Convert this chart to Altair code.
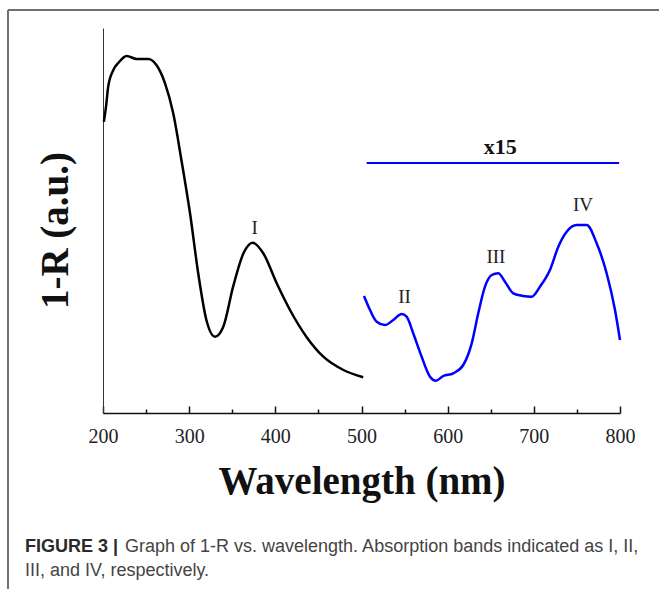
import altair as alt
import pandas as pd

# ---- data ----
uv_nm = [201, 203.5, 206, 212, 218, 227.5, 239, 252.5, 262, 272, 281.5, 291, 301,
         310.5, 320, 330, 339.6, 351, 363, 373.7, 386, 401.6, 417, 436, 455.7, 479, 502]
uv_val = [291.3, 306.3, 326.3, 343, 350.3, 357, 354, 354, 348, 329.7, 299.7, 253, 199.7,
          139.7, 93, 76.3, 86.3, 126.3, 159.7, 170.3, 159.7, 129.7, 103, 76.3, 56.3, 43, 35.7]

vis_nm = [502.9, 509.9, 517.6, 527.3, 536.9, 546.6, 552.4, 560, 569.8, 579.5, 586.4, 594.9,
          606.5, 618.1, 627.9, 635.5, 643.3, 651.1, 658.7, 666.5, 676.1, 687.7, 697.5, 707.1,
          718.7, 728.4, 738.1, 749.7, 761.3, 772.9, 784.5, 794.2, 800]
vis_val = [117, 103, 91.3, 88, 93, 99, 96.3, 79.7, 56.3, 36.3, 32.3, 37,
           39.7, 48, 69.7, 99.7, 126.3, 138, 139.7, 131.3, 119.7, 117, 116.3, 126.3,
           143, 166.3, 181.3, 188, 188, 169.7, 139.7, 103, 73]

band_names = ["I", "II", "III", "IV"]
band_nm = [376, 550, 656, 757]
band_val = [185, 116, 156, 208]

scale_bar_nm = [506]
scale_bar_nm2 = [799]
scale_bar_val = [250]
scale_text = ["x15"]
scale_text_nm = [661]
scale_text_val = [266]

x_label_values = [200, 300, 400, 500, 600, 700, 800]
x_minor_values = [250, 350, 450, 550, 650, 750]

caption_bold = "FIGURE 3 |"
caption_line1 = "Graph of 1-R vs. wavelength. Absorption bands indicated as I, II,"
caption_line2 = "III, and IV, respectively."

# ---- chart ----
W, H = 517, 385
SERIF = "Liberation Serif"
SANS = "Liberation Sans"

uv_df = pd.DataFrame({"nm": uv_nm, "val": uv_val})
vis_df = pd.DataFrame({"nm": vis_nm, "val": vis_val})
band_df = pd.DataFrame({"nm": band_nm, "val": band_val, "lab": band_names})
bar_df = pd.DataFrame({"nm": scale_bar_nm, "nm2": scale_bar_nm2, "val": scale_bar_val})
st_df = pd.DataFrame({"nm": scale_text_nm, "val": scale_text_val, "lab": scale_text})

xscale = alt.Scale(domain=[200, 800], nice=False, zero=False)
yscale = alt.Scale(domain=[0, H], nice=False, zero=False)

yaxis = alt.Axis(
    title="1-R (a.u.)", ticks=False, labels=False, grid=False, domain=True,
    domainColor="#333333", domainWidth=1,
    titleFont=SERIF, titleFontSize=39, titleFontWeight="bold", titleColor="#111111",
    titleAngle=270, titleX=-36, titleY=202, titleAlign="center", titleBaseline="alphabetic",
)
xaxis_bottom = alt.Axis(
    orient="bottom", values=x_label_values, ticks=False, grid=False, domain=True,
    domainColor="#111111", domainWidth=1.5,
    labelFont=SERIF, labelFontSize=20, labelColor="#222222", labelBaseline="alphabetic",
    labelPadding=29, labelFlush=False, labelOverlap=False,
    title="Wavelength (nm)", titleFont=SERIF, titleFontSize=39, titleFontWeight="bold",
    titleColor="#111111", titleX=W / 2, titleY=80, titleAlign="center",
    titleBaseline="alphabetic",
)
# inward ticks: top-oriented axes moved down onto the bottom edge
xaxis_major = alt.Axis(
    orient="top", offset=-H, values=x_label_values, labels=False, domain=False, grid=False,
    ticks=True, tickColor="#111111", tickWidth=1.5, tickSize=7, title=None,
)
xaxis_minor = alt.Axis(
    orient="top", offset=-H, values=x_minor_values, labels=False, domain=False, grid=False,
    ticks=True, tickColor="#111111", tickWidth=1.5, tickSize=4, title=None,
)

yenc = alt.Y("val:Q", scale=yscale, axis=yaxis)

uv = alt.Chart(uv_df).mark_line(color="black", strokeWidth=2.5, interpolate="monotone").encode(
    x=alt.X("nm:Q", scale=xscale, axis=xaxis_bottom), y=yenc)
vis = alt.Chart(vis_df).mark_line(color="#0000ff", strokeWidth=2.5, interpolate="monotone").encode(
    x=alt.X("nm:Q", scale=xscale, axis=xaxis_major), y=yenc)
bar = alt.Chart(bar_df).mark_rule(color="#0000ff", strokeWidth=1.8).encode(
    x=alt.X("nm:Q", scale=xscale, axis=xaxis_minor), x2="nm2:Q", y=yenc)
st = alt.Chart(st_df).mark_text(font=SERIF, fontSize=22, fontWeight="bold", color="#111111",
                                baseline="middle", align="center").encode(
    x=alt.X("nm:Q", scale=xscale, axis=None), y=yenc, text="lab:N")
bands = alt.Chart(band_df).mark_text(font=SERIF, fontSize=19, color="#222222",
                                     baseline="middle", align="center").encode(
    x=alt.X("nm:Q", scale=xscale, axis=None), y=yenc, text="lab:N")

# frame and caption
one = pd.DataFrame({"k": [0]})
frame_top = alt.Chart(one).mark_rule(color="#707070", strokeWidth=2).encode(
    x=alt.value(-95), x2=alt.value(556), y=alt.value(-18))
frame_left = alt.Chart(one).mark_rule(color="#707070", strokeWidth=2).encode(
    x=alt.value(-95), y=alt.value(-18), y2=alt.value(561))
cap_b = alt.Chart(pd.DataFrame({"t": [caption_bold]})).mark_text(
    font=SANS, fontSize=18, fontWeight="bold", color="#2a2a2a", align="left",
    baseline="alphabetic").encode(x=alt.value(-78), y=alt.value(524), text="t:N")
cap_1 = alt.Chart(pd.DataFrame({"t": [caption_line1]})).mark_text(
    font=SANS, fontSize=18, color="#444444", align="left",
    baseline="alphabetic").encode(x=alt.value(22), y=alt.value(524), text="t:N")
cap_2 = alt.Chart(pd.DataFrame({"t": [caption_line2]})).mark_text(
    font=SANS, fontSize=18, color="#444444", align="left",
    baseline="alphabetic").encode(x=alt.value(-78), y=alt.value(548), text="t:N")

chart = alt.layer(uv, vis, bar, st, bands, frame_top, frame_left, cap_b, cap_1, cap_2).resolve_axis(
    x="independent"
).properties(
    width=W, height=H,
    padding={"left": 103, "top": 28, "right": 39, "bottom": 176},
    autosize=alt.AutoSizeParams(type="none"),
    background="white",
).configure_view(stroke=None)

chart.save("out.html", embed_options={"renderer": "svg", "actions": False})
